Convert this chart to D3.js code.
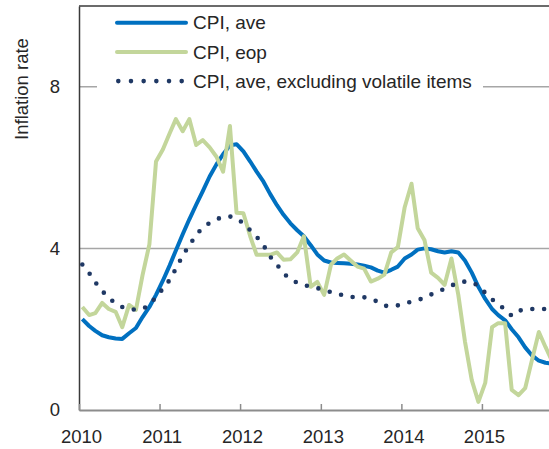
<!DOCTYPE html>
<html>
<head>
<meta charset="UTF-8">
<title>Inflation rate</title>
<script src="https://cdn.jsdelivr.net/npm/d3@7"></script>
<style>
  body { margin: 0; background: #fff; }
  svg { display: block; font-family: "Liberation Sans", Arial, sans-serif; }
</style>
</head>
<body>
<svg width="549" height="449"></svg>
<script>
// monthly observations, Jan 2010 .. Nov 2015
let cpiAve = [
  2.25, 2.08, 1.96, 1.85, 1.80, 1.77, 1.76, 1.90, 2.03, 2.30, 2.55, 2.85,
  3.20, 3.58, 3.95, 4.35, 4.72, 5.08, 5.42, 5.78, 6.08, 6.33, 6.55, 6.58,
  6.40, 6.15, 5.90, 5.65, 5.35, 5.07, 4.83, 4.62, 4.45, 4.30, 4.08, 3.85,
  3.70, 3.65, 3.64, 3.63, 3.62, 3.60, 3.57, 3.53, 3.45, 3.40, 3.47, 3.55,
  3.75, 3.85, 3.97, 4.00, 3.98, 3.93, 3.90, 3.93, 3.90, 3.70, 3.40, 3.05,
  2.75, 2.50, 2.35, 2.22, 2.00, 1.80, 1.55, 1.35, 1.22, 1.17, 1.15
];
let cpiEop = [
  2.55, 2.35, 2.40, 2.65, 2.50, 2.43, 2.05, 2.60, 2.48, 3.34, 4.10, 6.15,
  6.45, 6.85, 7.20, 6.90, 7.20, 6.56, 6.68, 6.50, 6.27, 5.90, 7.03, 4.88,
  4.87, 4.30, 3.84, 3.84, 3.84, 3.90, 3.72, 3.73, 3.90, 4.30, 3.05, 3.17,
  2.85, 3.60, 3.75, 3.85, 3.70, 3.55, 3.50, 3.18, 3.25, 3.35, 3.90, 4.03,
  5.02, 5.60, 4.50, 4.20, 3.40, 3.27, 3.10, 3.75, 2.85, 1.70, 0.74, 0.20,
  0.67, 2.05, 2.15, 2.15, 0.50, 0.37, 0.54, 1.24, 1.93, 1.56, 1.20
];
let cpiCore = [
  3.60, 3.39, 3.16, 2.95, 2.77, 2.64, 2.55, 2.50, 2.48, 2.50, 2.60, 2.80,
  3.00, 3.22, 3.50, 3.82, 4.08, 4.33, 4.52, 4.63, 4.72, 4.78, 4.79, 4.75,
  4.62, 4.45, 4.29, 4.08, 3.80, 3.60, 3.38, 3.24, 3.15, 3.09, 3.06, 3.02,
  2.96, 2.92, 2.87, 2.84, 2.80, 2.79, 2.79, 2.75, 2.68, 2.58, 2.57, 2.59,
  2.64, 2.68, 2.72, 2.78, 2.86, 2.93, 3.00, 3.08, 3.15, 3.18, 3.16, 3.08,
  2.90, 2.74, 2.60, 2.50, 2.33, 2.45, 2.50, 2.50, 2.50, 2.50, 2.50
];
let yTicks = [0, 4, 8];
let seriesNames = ["CPI, ave", "CPI, eop", "CPI, ave, excluding volatile items"];

// points sit in the middle of each month
let months = d3.timeMonth.range(new Date(2010, 0, 1), new Date(2015, 11, 1))
  .map(d => d3.timeDay.offset(d, 15));

let svg = d3.select("svg");
let plotLeft = 79, plotRight = 549, plotTop = 6, plotBottom = 410;
let fontSize = "18.5px";
let textColor = "#262626";

let x = d3.scaleTime()
  .domain([new Date(2010, 0, 1), new Date(2015, 10, 1)])
  .range([plotLeft, plotRight]);
let y = d3.scaleLinear().domain([0, 10]).range([plotBottom, plotTop]);

svg.append("defs").append("clipPath").attr("id", "plot-clip")
  .append("rect")
  .attr("x", plotLeft).attr("y", plotTop)
  .attr("width", plotRight - plotLeft).attr("height", plotBottom - plotTop);

// gridlines at 4 and 8
svg.append("g")
  .selectAll("line")
  .data(yTicks.filter(d => d > 0))
  .join("line")
  .attr("x1", plotLeft).attr("x2", plotRight)
  .attr("y1", d => y(d)).attr("y2", d => y(d))
  .attr("stroke", "#a6a6a6")
  .attr("stroke-width", 1.5);

// frame top + left axis
svg.append("line")
  .attr("x1", plotLeft).attr("x2", plotRight)
  .attr("y1", y(10)).attr("y2", y(10))
  .attr("stroke", "#3a3a3a").attr("stroke-width", 1.5);

let yAxis = svg.append("g")
  .attr("transform", `translate(${plotLeft},0)`)
  .call(d3.axisLeft(y).tickValues(yTicks).tickSize(0).tickPadding(19));
yAxis.select(".domain").attr("stroke", "#3a3a3a").attr("stroke-width", 1.5);
yAxis.selectAll("text")
  .attr("font-size", fontSize)
  .attr("font-family", "Liberation Sans, Arial, sans-serif")
  .attr("fill", textColor);

let xAxis = svg.append("g")
  .attr("transform", `translate(0,${plotBottom})`)
  .call(d3.axisBottom(x)
    .ticks(d3.timeYear)
    .tickFormat(d3.timeFormat("%Y"))
    .tickSizeInner(-6)
    .tickSizeOuter(0)
    .tickPadding(20));
xAxis.select(".domain").attr("stroke", "#8c8c8c").attr("stroke-width", 2);
xAxis.selectAll(".tick line").attr("stroke", "#8c8c8c").attr("stroke-width", 1.5);
xAxis.selectAll("text")
  .attr("dx", 2)
  .attr("font-size", fontSize)
  .attr("font-family", "Liberation Sans, Arial, sans-serif")
  .attr("fill", textColor);

svg.append("text")
  .attr("transform", "translate(28,89) rotate(-90)")
  .attr("text-anchor", "middle")
  .attr("font-size", fontSize)
  .attr("fill", textColor)
  .text("Inflation rate");

// legend box hides the gridline behind it
svg.append("rect")
  .attr("x", 97).attr("y", 9)
  .attr("width", 386).attr("height", 88)
  .attr("fill", "#fff");

let series = [
  { name: seriesNames[0], values: cpiAve, color: "#0070c0", width: 4, dash: null },
  { name: seriesNames[1], values: cpiEop, color: "#c3d69b", width: 4, dash: null },
  { name: seriesNames[2], values: cpiCore, color: "#1f3864", width: 4.6, dash: "0 11.8" }
];

let line = d3.line()
  .x((d, i) => x(months[i]))
  .y(d => y(d));

svg.append("g")
  .attr("clip-path", "url(#plot-clip)")
  .selectAll("path")
  .data(series)
  .join("path")
  .attr("d", d => line(d.values))
  .attr("fill", "none")
  .attr("stroke", d => d.color)
  .attr("stroke-width", d => d.width)
  .attr("stroke-linejoin", "round")
  .attr("stroke-linecap", d => d.dash ? "round" : "butt")
  .attr("stroke-dasharray", d => d.dash);

let legend = svg.append("g")
  .selectAll("g")
  .data(series)
  .join("g")
  .attr("transform", (d, i) => `translate(0,${22.7 + i * 29.2})`);

legend.append("line")
  .attr("x1", d => d.dash ? 118.3 : 117)
  .attr("x2", d => d.dash ? 182 : 186)
  .attr("stroke", d => d.color)
  .attr("stroke-width", d => d.width)
  .attr("stroke-linecap", "round")
  .attr("stroke-dasharray", d => d.dash ? "0 12.68" : null);

legend.append("text")
  .attr("x", 193)
  .attr("dy", "0.35em")
  .attr("font-size", "19px")
  .attr("fill", textColor)
  .text(d => d.name);
</script>
</body>
</html>
